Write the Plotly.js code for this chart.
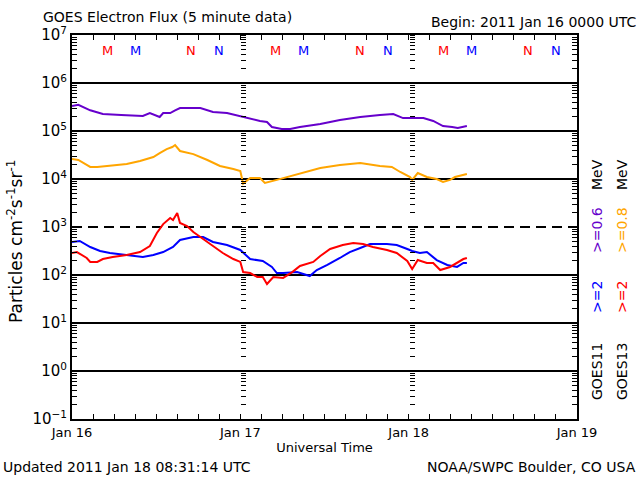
<!DOCTYPE html>
<html><head><meta charset="utf-8">
<script src="https://cdn.plot.ly/plotly-3.0.1.min.js"></script>
<style>body{margin:0;background:#fff}</style>
</head><body><div id="chart" style="width:640px;height:480px"></div>
<script>
// hours since 2011-01-16 00:00 UTC
const purpleHours = [0,0.9,2.6,4.4,7.0,10.1,11.1,12.5,13.0,14.0,14.7,15.4,18.3,19.3,20.1,22.1,24.0,25.4,26.8,27.8,28.5,29.9,31.1,32.5,35.4,38.2,41.1,43.9,45.8,47.2,48.2,50.1,51.5,52.9,54.2,55.0,56.3];
const goes11Low = [3.3e5,3.5e5,2.7e5,2.26e5,2.15e5,2.05e5,2.37e5,1.96e5,2.37e5,2.37e5,2.7e5,3.0e5,3.0e5,2.7e5,2.49e5,2.37e5,2.05e5,1.78e5,1.62e5,1.54e5,1.21e5,1.1e5,1.1e5,1.21e5,1.4e5,1.7e5,1.96e5,2.15e5,2.26e5,1.86e5,1.86e5,1.86e5,1.62e5,1.27e5,1.21e5,1.15e5,1.27e5];
const orangeHours = [0,0.9,2.1,2.6,3.6,5.4,7.8,9.7,11.6,12.5,13.5,14.3,14.7,15.4,17.3,19.3,21.1,23.0,24.0,24.4,25.4,26.8,27.5,29.2,30.7,32.5,35.4,38.2,41.1,43.9,45.6,46.8,48.2,48.5,49.3,50.6,52.0,52.9,53.9,54.6,55.3,56.3];
const goes13Low = [2.61e4,2.49e4,1.96e4,1.78e4,1.78e4,1.87e4,2.05e4,2.37e4,2.87e4,3.47e4,4.2e4,4.64e4,5.1e4,3.83e4,3.3e4,2.49e4,1.87e4,1.61e4,1.47e4,8.0e3,1.05e4,1.05e4,8.3e3,9.6e3,1.1e4,1.33e4,1.7e4,1.96e4,2.15e4,1.87e4,1.78e4,1.4e4,1.1e4,9.6e3,1.33e4,1.1e4,1.0e4,8.7e3,9.6e3,1.1e4,1.15e4,1.27e4];
const blueHours = [0,1.1,2.6,4.0,5.4,7.8,10.1,11.6,13.0,14.4,15.4,17.3,18.7,20.1,22.1,24.0,25.4,27.2,28.5,29.2,30.1,32.1,33.9,34.9,36.4,38.2,39.6,41.1,42.5,44.9,46.3,47.8,48.5,49.6,50.6,52.0,53.5,54.9,55.8,56.3];
const goes11High = [487,511,383,316,287,261,237,261,301,383,536,619,619,487,422,332,215,196,147,110,110,115,95,127,162,226,301,365,442,442,422,348,316,287,301,205,162,147,178,178];
const redHours = [0,0.7,2.1,2.6,3.6,4.4,5.8,7.8,9.7,11.1,12.1,13.0,14.0,14.4,15.0,15.4,16.4,17.3,18.7,20.1,21.5,23.0,24.0,24.4,25.4,26.4,27.2,27.8,28.7,30.1,31.4,32.5,34.4,35.4,36.8,38.6,40.1,41.5,42.9,44.9,46.3,47.8,48.5,49.3,50.6,51.5,52.5,53.9,54.9,55.8,56.3];
const goes13High = [287,301,226,187,187,215,237,261,301,402,750,1150,1540,1400,1960,1210,1050,787,562,402,287,215,187,115,110,91,91,65,91,87,115,154,187,249,348,422,464,442,383,332,287,196,133,205,178,178,127,147,178,215,226];

const dayLabels = ['Jan 16','Jan 17','Jan 18','Jan 19'];
const decadeExps = [-1,0,1,2,3,4,5,6,7];
const solidDecades = [1,10,100,1e4,1e5,1e6];
const dashedDecades = [1e3];
const markerHours = [5,9,17,21,29,33,41,45,53,57,65,69];
const markerLabels = ['M','M','N','N','M','M','N','N','M','M','N','N'];
const markerColors = ['#ff0000','#0000ff','#ff0000','#0000ff','#ff0000','#0000ff','#ff0000','#0000ff','#ff0000','#0000ff','#ff0000','#0000ff'];

const base = Date.UTC(2011,0,16);
const H = 3600000;
const toT = h => base + h*H;
const xStart = base, xEnd = base + 72*H;

const decadeVals = decadeExps.map(e => Math.pow(10,e));
const decadeText = decadeExps.map(e => '10<sup>' + (e<0?'\u2212'+(-e):e) + '</sup>');
const minorVals = [];
decadeExps.slice(0,-1).forEach(e => { for (let m=2;m<=9;m++) minorVals.push(m*Math.pow(10,e)); });
const allVals = decadeVals.concat(minorVals);

const font = 'DejaVu Sans, Arial, sans-serif';
const traces = [];
solidDecades.forEach(v => traces.push({x:[xStart,xEnd], y:[v,v], mode:'lines', line:{color:'#000',width:2}, hoverinfo:'skip', showlegend:false}));
dashedDecades.forEach(v => traces.push({x:[xStart,xEnd], y:[v,v], mode:'lines', line:{color:'#000',width:2,dash:'10px,6px'}, hoverinfo:'skip', showlegend:false}));
function series(hours, vals, color){
  return {x: hours.map(toT), y: vals, mode:'lines', line:{color:color, width:2}, showlegend:false};
}
traces.push(series(purpleHours, goes11Low, '#6600cc'));
traces.push(series(orangeHours, goes13Low, '#ffa500'));
traces.push(series(blueHours, goes11High, '#0000ff'));
traces.push(series(redHours, goes13High, '#ff0000'));
traces.push({x:[null], y:[null], yaxis:'y2', showlegend:false, hoverinfo:'skip'});
traces.push({x:[null], y:[null], yaxis:'y3', showlegend:false, hoverinfo:'skip'});

const innerAxis = pos => ({overlaying:'y', anchor:'free', position:pos, side:'right', type:'log', range:[-1,7],
  tickmode:'array', tickvals: allVals, ticks:'outside', ticklen:5, tickwidth:1, tickcolor:'#000',
  showticklabels:false, showgrid:false, showline:false, zeroline:false});

const ann = [];
const pxX = px => (px-72)/505;
const pxY = py => (419-py)/384;
ann.push({text:'GOES Electron Flux (5 minute data)', xref:'paper', yref:'paper', x:pxX(41), y:pxY(17), xanchor:'left', yanchor:'middle', showarrow:false, font:{family:font,size:14,color:'#000'}});
ann.push({text:'Begin: 2011 Jan 16 0000 UTC', xref:'paper', yref:'paper', x:pxX(638), y:pxY(22), xanchor:'right', yanchor:'middle', showarrow:false, font:{family:font,size:14,color:'#000'}});
ann.push({text:'Updated 2011 Jan 18 08:31:14 UTC', xref:'paper', yref:'paper', x:pxX(1), y:pxY(467), xanchor:'left', yanchor:'middle', showarrow:false, font:{family:font,size:14,color:'#000'}});
ann.push({text:'NOAA/SWPC Boulder, CO USA', xref:'paper', yref:'paper', x:pxX(638), y:pxY(467), xanchor:'right', yanchor:'middle', showarrow:false, font:{family:font,size:14,color:'#000'}});
ann.push({text:'Particles cm<sup>-2</sup>s<sup>-1</sup>sr<sup>-1</sup>', xref:'paper', yref:'paper', x:pxX(15), y:pxY(242), xanchor:'center', yanchor:'middle', textangle:-90, showarrow:false, font:{family:font,size:17,color:'#000'}});
markerHours.forEach((h,i) => ann.push({text:markerLabels[i], xref:'x', yref:'paper', x:toT(h), y:pxY(50), showarrow:false, xanchor:'center', yanchor:'middle', font:{family:font,size:13,color:markerColors[i]}}));
const rightCols = [
  {x:597, parts:[['GOES11','#000',372],['&gt;=2','#0000ff',297],['&gt;=0.6','#6600cc',230],['MeV','#000',175]]},
  {x:622, parts:[['GOES13','#000',372],['&gt;=2','#ff0000',297],['&gt;=0.8','#ffa500',230],['MeV','#000',175]]}
];
rightCols.forEach(c => c.parts.forEach(p => ann.push({text:p[0], xref:'paper', yref:'paper', x:pxX(c.x), y:pxY(p[2]), xanchor:'center', yanchor:'middle', textangle:-90, showarrow:false, font:{family:font,size:14,color:p[1]}})));

const layout = {
  width:640, height:480, margin:{l:72, r:63, t:35, b:61},
  paper_bgcolor:'#fff', plot_bgcolor:'#fff', showlegend:false,
  font:{family:font, size:14, color:'#000'},
  xaxis:{type:'date', range:[xStart,xEnd], tickmode:'array', tickvals:[0,1,2,3].map(d=>base+d*24*H), ticktext:dayLabels,
    ticks:'inside', ticklen:5, tickwidth:1, tickcolor:'#000', showline:true, linewidth:2, linecolor:'#000', mirror:'ticks',
    showgrid:false, zeroline:false, tickfont:{family:font,size:13},
    minor:{dtick:3*H, ticks:'inside', ticklen:5, tickwidth:1, tickcolor:'#000', showgrid:false},
    title:{text:'Universal Time', font:{family:font,size:13}, standoff:4}},
  yaxis:{type:'log', range:[-1,7], tickmode:'array', tickvals:decadeVals, ticktext:decadeText,
    ticks:'inside', ticklen:5, tickwidth:1, tickcolor:'#000', showline:true, linewidth:2, linecolor:'#000', mirror:'ticks',
    showgrid:false, zeroline:false, tickfont:{family:font,size:15},
    minor:{tickmode:'array', tickvals:minorVals, ticks:'inside', ticklen:5, tickwidth:1, tickcolor:'#000', showgrid:false}},
  yaxis2: innerAxis(1/3),
  yaxis3: innerAxis(2/3),
  annotations: ann
};
Plotly.newPlot('chart', traces, layout, {displayModeBar:false, staticPlot:true});
</script></body></html>
